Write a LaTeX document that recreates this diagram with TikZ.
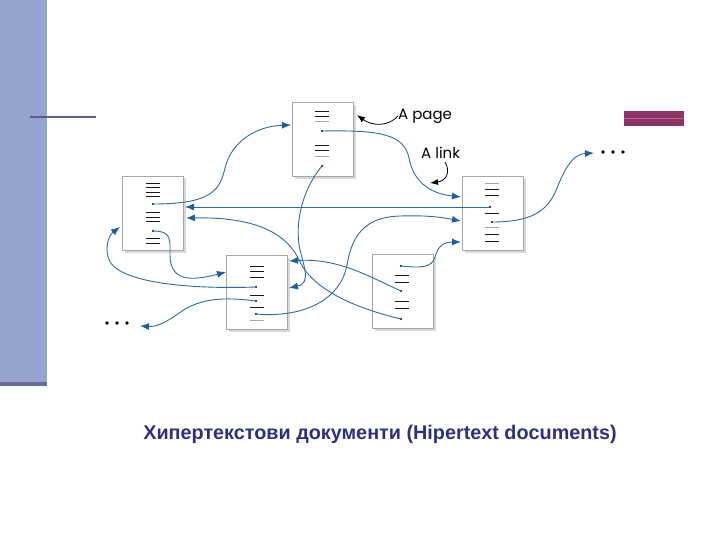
\documentclass[tikz,border=0pt]{standalone}
\usepackage{fontspec}
\setmainfont{Liberation Sans}
\newfontfamily\lblfont{Poppins}
\usetikzlibrary{arrows.meta,shadows}
\definecolor{barblue}{HTML}{95A3CF}
\definecolor{bardark}{HTML}{6A6C9C}
\definecolor{rulecol}{HTML}{5B6090}
\definecolor{linkblue}{HTML}{2E6C9C}
\definecolor{tipblue}{HTML}{1E5E9E}
\definecolor{plum}{HTML}{8E3366}
\definecolor{plumlight}{HTML}{A86A90}
\definecolor{navy}{HTML}{2E2F80}
\newcommand\txtline[3]{\draw[#1] ({#2-7},#3) -- ({#2+7},#3);}
\begin{document}
\begin{tikzpicture}[x=1pt,y=-1pt,
  page/.style={draw=black!35, fill=white, line width=0.6pt, minimum width=61pt,
    minimum height=74pt, inner sep=0pt,
    drop shadow={shadow xshift=2.5pt, shadow yshift=-2.5pt, opacity=0.22, fill=black!70}},
  tl/.style={line width=1pt, black!90},
  tg/.style={line width=1pt, black!35},
  dotn/.style={circle, fill=black, inner sep=0pt, minimum size=2.4pt},
  bigdot/.style={circle, fill=black, inner sep=0pt, minimum size=3.6pt},
  link/.style={linkblue, line width=0.9pt, -{Latex[length=9pt,width=7pt,color=tipblue]}},
  callout/.style={black, line width=0.8pt, -{Latex[length=8pt,width=6pt]}},
  lbl/.style={font=\lblfont\fontsize{15}{17}\selectfont, inner sep=0pt},
]
\useasboundingbox (0,0) rectangle (720,540);
% slide decoration
\fill[barblue] (0,0) rectangle (47,383);
\fill[bardark] (0,382) rectangle (47,386);
\draw[rulecol, line width=2pt] (30,117) -- (96,117);
\fill[plum] (624,111) rectangle (684,126);
\draw[plumlight, line width=1pt] (624,118.5) -- (684,118.5);

% pages
\node[page] (p1) at (323,139.5) {};
\node[page] (p2) at (153,213) {};
\node[page] (p3) at (493,213.5) {};
\node[page] (p4) at (257,292) {};
\node[page] (p5) at (402.5,291.5) {};

% page 1 content
\txtline{tl}{322}{112} \txtline{tl}{322}{117} \txtline{tg}{322}{122}
\txtline{tl}{322}{146} \txtline{tl}{322}{151} \txtline{tg}{322}{157}
\node[dotn] (d1a) at (322,131) {};
\node[dotn] (d1b) at (322,166) {};
% page 2 content
\txtline{tl}{153}{184} \txtline{tl}{153}{188} \txtline{tl}{153}{193} \txtline{tl}{153}{197}
\txtline{tl}{153}{213} \txtline{tl}{153}{218} \txtline{tl}{153}{222}
\txtline{tl}{153}{238} \txtline{tl}{153}{243}
\node[dotn] (d2a) at (153,204) {};
\node[dotn] (d2b) at (153,231) {};
% page 3 content
\txtline{tg}{492}{184} \txtline{tl}{492}{190} \txtline{tl}{492}{196}
\txtline{tl}{492}{214}
\txtline{tg}{492}{228} \txtline{tl}{492}{234} \txtline{tl}{492}{241}
\node[dotn] (d3a) at (490,207) {};
\node[dotn] (d3b) at (492,222) {};
% page 4 content
\txtline{tl}{257}{266} \txtline{tl}{257}{271} \txtline{tl}{257}{277}
\txtline{tl}{257}{295} \txtline{tl}{257}{307} \txtline{tg}{257}{320}
\node[dotn] (d4a) at (256,287) {};
\node[dotn] (d4b) at (256,301) {};
\node[dotn] (d4c) at (256,314) {};
% page 5 content
\txtline{tl}{402}{275} \txtline{tl}{402}{282}
\txtline{tl}{402}{301} \txtline{tl}{402}{308}
\node[dotn] (d5a) at (401,266) {};
\node[dotn] (d5b) at (401,291) {};
\node[dotn] (d5c) at (401,319) {};

% ellipses
\node[inner sep=0pt, minimum width=26pt, minimum height=4pt] (dotsR) at (613,152) {};
\node[bigdot] at (603,152) {}; \node[bigdot] at (613,152) {}; \node[bigdot] at (623,152) {};
\node[inner sep=0pt, minimum width=26pt, minimum height=4pt] (dotsL) at (117,323) {};
\node[bigdot] at (107,323) {}; \node[bigdot] at (117,323) {}; \node[bigdot] at (127,323) {};

% arrow end points
\coordinate (a1) at (291,125);
\coordinate (a2) at (461,197);
\coordinate (a3) at (185,207);
\coordinate (a4) at (594,153);
\coordinate (a5) at (289,288);
\coordinate (a6) at (186,218);
\coordinate (a7) at (289,261);
\coordinate (a8) at (461,221);
\coordinate (a9) at (461,242);
\coordinate (a10) at (120,227);
\coordinate (a11) at (226,272);
\coordinate (a12) at (140,326);

% links
\draw[link] (d2a.center) .. controls (212,204) and (220,190) .. (225,168)
  .. controls (232,140) and (258,126) .. (a1);
\draw[link] (d1a.center) .. controls (380,130) and (404,134) .. (409,158)
  .. controls (414,185) and (434,194) .. (a2);
\draw[link] (d3a.center) -- (a3);
\draw[link] (d3b.center) .. controls (530,222) and (548,212) .. (557,188)
  .. controls (567,163) and (575,154) .. (a4);
\draw[link] (d1b.center) .. controls (306,185) and (295,215) .. (299,245)
  .. controls (303,265) and (312,283) .. (a5);
\draw[link] (d5c.center) .. controls (355,308) and (314,290) .. (300,262)
  .. controls (286,230) and (250,217) .. (a6);
\draw[link] (d5b.center) .. controls (368,276) and (338,258) .. (a7);
\draw[link] (d4c.center) .. controls (300,318) and (340,302) .. (347,265)
  .. controls (352,235) and (365,217) .. (400,216)
  .. controls (430,215) and (445,218) .. (a8);
\draw[link] (d5a.center) .. controls (420,268) and (432,268) .. (435,257)
  .. controls (438,245) and (445,242) .. (a9);
\draw[link] (d4a.center) .. controls (200,289) and (125,285) .. (110,262)
  .. controls (104,250) and (108,236) .. (a10);
\draw[link] (d2b.center) .. controls (172,231) and (170,240) .. (170,255)
  .. controls (170,282) and (192,281) .. (a11);
\draw[link] (d4b.center) .. controls (225,297) and (202,298) .. (182,311)
  .. controls (168,321) and (158,327) .. (a12);

% labels
\node[lbl, anchor=west] (lpage) at (398,116) {A page};
\node[lbl, anchor=west] (llink) at (421,153) {A link};
\coordinate (cp) at (357,115);
\coordinate (cl) at (430,183);
\draw[callout] (lpage.west) .. controls (388,127) and (372,126) .. (cp);
\draw[callout] (445,162) .. controls (451,172) and (446,181) .. (cl);

% caption
\node[font=\bfseries\fontsize{19.8}{23}\selectfont, text=navy] (cap) at (380,434)
  {Хипертекстови документи (Hipertext documents)};
\end{tikzpicture}
\end{document}
